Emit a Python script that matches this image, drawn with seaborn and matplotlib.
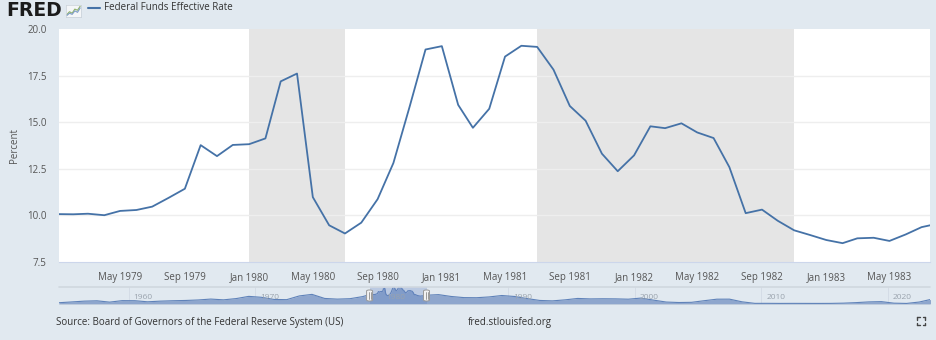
import matplotlib
matplotlib.use("Agg")
import matplotlib.pyplot as plt
import matplotlib.dates as mdates
from matplotlib.patches import FancyBboxPatch
import numpy as np
import pandas as pd
import seaborn as sns

# Monthly effective federal funds rate, percent
months = pd.date_range("1979-01-01", "1983-08-01", freq="MS")
rates = [
    10.07, 10.06, 10.09, 10.01, 10.24, 10.29, 10.47, 10.94, 11.43, 13.77, 13.18, 13.78,
    13.82, 14.13, 17.19, 17.61, 10.98, 9.47, 9.03, 9.61, 10.87, 12.81, 15.85, 18.90,
    19.08, 15.93, 14.70, 15.72, 18.52, 19.10, 19.04, 17.82, 15.87, 15.08, 13.31, 12.37,
    13.22, 14.78, 14.68, 14.94, 14.45, 14.15, 12.59, 10.12, 10.31, 9.71, 9.20, 8.95,
    8.68, 8.51, 8.77, 8.80, 8.63, 8.98, 9.37, 9.56,
]

# Recession periods (start, end)
recessions = [("1980-01-01", "1980-07-01"), ("1981-07-01", "1982-11-01")]

# Visible window and axis ticks
view_start, view_end = "1979-01-05", "1983-07-17"
tick_dates = ["1979-05-01", "1979-09-01", "1980-01-01", "1980-05-01", "1980-09-01",
              "1981-01-01", "1981-05-01", "1981-09-01", "1982-01-01", "1982-05-01",
              "1982-09-01", "1983-01-01", "1983-05-01"]
y_ticks = [7.5, 10.0, 12.5, 15.0, 17.5, 20.0]

# Annual averages for the full-history navigator strip
nav_years = list(range(1955, 2024))
nav_rates = [
    1.79, 2.73, 3.11, 1.57, 3.31, 3.21, 1.95, 2.71, 3.18, 3.50,
    4.07, 5.11, 4.22, 5.66, 8.21, 7.17, 4.67, 4.44, 8.74, 10.51,
    5.82, 5.05, 5.54, 7.94, 11.20, 13.35, 16.39, 12.24, 9.09, 10.23,
    8.10, 6.80, 6.66, 7.57, 9.21, 8.10, 5.69, 3.52, 3.02, 4.21,
    5.83, 5.30, 5.46, 5.35, 4.97, 6.24, 3.88, 1.67, 1.13, 1.35,
    3.22, 4.97, 5.02, 1.92, 0.16, 0.18, 0.10, 0.14, 0.11, 0.09,
    0.13, 0.40, 1.00, 1.83, 2.16, 0.38, 0.08, 1.68, 5.02,
]
nav_start_year, nav_end_year = 1954.5, 2023.35
nav_labels = [1960, 1970, 1980, 1990, 2000, 2010, 2020]

BG = "#e1e9f0"
LINE = "#4572a7"
TXT = "#555555"

sns.set_theme(style="white")
plt.rcParams["font.family"] = ["Liberation Sans Narrow", "Open Sans", "DejaVu Sans"]

fig = plt.figure(figsize=(9.36, 3.40), dpi=100, facecolor=BG)

# ---- main chart ----
ax = fig.add_axes([59 / 936, 1 - 262 / 340, (930 - 59) / 936, (262 - 29) / 340])
ax.set_facecolor("white")
for s, e in recessions:
    ax.axvspan(pd.Timestamp(s), pd.Timestamp(e), color="#e5e5e5", lw=0, zorder=0)
for yv in y_ticks[1:-1]:
    ax.axhline(yv, color="#eeeeee", lw=1.0, zorder=1)

df = pd.DataFrame({"date": months, "rate": rates})
sns.lineplot(data=df, x="date", y="rate", ax=ax, color=LINE, lw=1.3, zorder=3)

ax.set_xlim(pd.Timestamp(view_start), pd.Timestamp(view_end))
ax.set_ylim(7.5, 20.0)
ax.set_yticks(y_ticks)
ax.set_yticklabels([f"{v:.1f}" for v in y_ticks])
ax.set_xticks([pd.Timestamp(d) for d in tick_dates])
ax.xaxis.set_major_formatter(mdates.DateFormatter("%b %Y"))
ax.tick_params(axis="x", length=5, width=0.8, color="#ccd6eb", labelsize=7, labelcolor=TXT, pad=2)
ax.tick_params(axis="y", length=0, labelsize=7, labelcolor=TXT, pad=9)
ax.set_xlabel("")
ax.set_ylabel("Percent", fontsize=7, color=TXT, labelpad=5)
for side in ["top", "right", "left"]:
    ax.spines[side].set_visible(False)
ax.spines["bottom"].set_color("#ccd6eb")
ax.spines["bottom"].set_linewidth(0.8)

# ---- navigator strip ----
nav_top, nav_bot = 286.5, 303.5
nav = fig.add_axes([59 / 936, 1 - nav_bot / 340, (930 - 59) / 936, (nav_bot - nav_top) / 340])
nav.set_facecolor(BG)
mx = np.array([m.year + (m.month - 1) / 12 for m in months])
ax_years = np.array(nav_years) + 0.5
keep = (ax_years < 1979) | (ax_years > 1983.7)
nx = np.concatenate([[nav_start_year], ax_years[keep], mx])
ny = np.concatenate([[0.9], np.array(nav_rates)[keep], rates])
order = np.argsort(nx)
nx, ny = nx[order], ny[order]
nav.fill_between(nx, 0, ny, color="#8ea6cd", lw=0, zorder=1)
nav.plot(nx, ny, color="#5f82b9", lw=0.8, zorder=2)
nav.set_xlim(nav_start_year, nav_end_year)
nav.set_ylim(0, 19.6)
for yr in nav_labels:
    nav.axvline(yr, color="#d4dce6", lw=0.7, zorder=0)
    nav.text(yr + 0.4, 7.0, str(yr), fontsize=6, color="#9aa3ad", va="center", ha="left", zorder=3)
sel0, sel1 = 1979.05, 1983.55
nav.axvspan(sel0, sel1, color="#6685c2", alpha=0.3, lw=0, zorder=2.5)
nav.set_xticks([])
nav.set_yticks([])
for side in nav.spines.values():
    side.set_visible(False)
fig.add_artist(plt.Line2D([59 / 936, 930 / 936], [1 - nav_top / 340] * 2, color="#d0d7df", lw=1.2))
fig.add_artist(plt.Line2D([59 / 936, 930 / 936], [1 - nav_bot / 340] * 2, color="#b8c6d8", lw=0.6))
for hx in (sel0, sel1):
    fx = (59 + (hx - nav_start_year) / (nav_end_year - nav_start_year) * (930 - 59)) / 936
    fig.add_artist(FancyBboxPatch((fx - 3 / 936, 1 - 301 / 340), 6 / 936, 11 / 340,
                                  boxstyle="round,pad=0,rounding_size=0.003",
                                  fc="#f2f2f2", ec="#999999", lw=0.7, transform=fig.transFigure))
    for dx in (-1, 1):
        fig.add_artist(plt.Line2D([fx + dx / 936] * 2, [1 - 299 / 340, 1 - 292 / 340],
                                  color="#777777", lw=0.5))

# ---- header ----
fig.text(6 / 936, 1 - 10 / 340, "FRED", fontsize=13.5, fontweight="bold", color="#1b1b1b",
         family="DejaVu Sans", va="center", ha="left")
icon = fig.add_axes([66 / 936, 1 - 17 / 340, 15 / 936, 12 / 340])
icon.set_facecolor("#f4f6f8")
icon.plot([0, 1, 2, 3, 4, 5], [0.5, 1.5, 1.0, 2.4, 2.0, 3.4], color="#8fb26a", lw=0.8)
icon.plot([0, 1, 2, 3, 4, 5], [0.2, 1.0, 0.6, 1.8, 1.3, 2.8], color="#7d9cc8", lw=0.8)
icon.set_xlim(-0.3, 5.3)
icon.set_ylim(-0.3, 3.8)
icon.set_xticks([])
icon.set_yticks([])
for sp in icon.spines.values():
    sp.set_color("#c8d0d8")
    sp.set_linewidth(0.5)
fig.add_artist(plt.Line2D([88 / 936, 100 / 936], [1 - 8 / 340] * 2, color=LINE, lw=1.5))
fig.text(104 / 936, 1 - 8 / 340, "Federal Funds Effective Rate", fontsize=7, color="#333333",
         va="center", ha="left")

# ---- footer ----
fig.text(56 / 936, 1 - 322 / 340, "Source: Board of Governors of the Federal Reserve System (US)",
         fontsize=7, color="#333333", va="center", ha="left")
fig.text(468 / 936, 1 - 322 / 340, "fred.stlouisfed.org", fontsize=7, color="#333333",
         va="center", ha="left")
# fullscreen glyph
cx, cy = 921, 321
for sx in (-1, 1):
    for sy in (-1, 1):
        x0, y0 = cx + sx * 4, cy + sy * 4
        fig.add_artist(plt.Line2D([x0 / 936, (x0 - sx * 2.5) / 936], [1 - y0 / 340] * 2,
                                  color="#444444", lw=1.0))
        fig.add_artist(plt.Line2D([x0 / 936] * 2, [1 - y0 / 340, 1 - (y0 - sy * 2.5) / 340],
                                  color="#444444", lw=1.0))

fig.savefig("out.png", dpi=100, facecolor=BG)
